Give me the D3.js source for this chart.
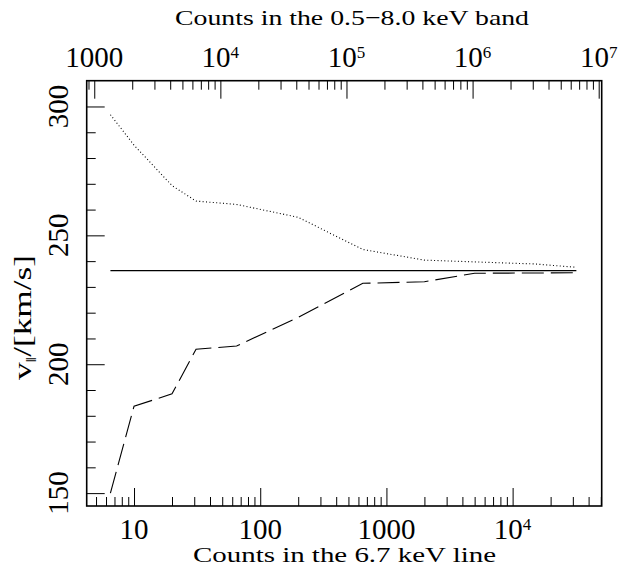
<!DOCTYPE html>
<html>
<head>
<meta charset="utf-8">
<script src="https://cdn.jsdelivr.net/npm/d3@7"></script>
<style>
  html, body { margin: 0; padding: 0; background: #fff; }
  svg { display: block; }
  text { font-family: "Liberation Serif", "Times New Roman", serif; fill: #000; }
</style>
</head>
<body>
<div id="chart"></div>
<script>
// ---- data ----
const lineCounts = [6.5, 10, 20, 31, 65, 200, 650, 2000, 5000, 15000, 32000];
const upperVel   = [296.8, 285.0, 269.3, 263.3, 262.0, 257.0, 244.5, 240.4, 239.7, 238.9, 237.6];
const lowerVel   = [150.0, 183.7, 188.5, 205.8, 207.1, 218.2, 231.4, 232.0, 235.3, 235.4, 235.5];
const trueVel    = [236.3, 236.3];
const trueCounts = [6.5, 32000];

const bottomMajor = [10, 100, 1000, 10000];
const bottomLabels = [["10", ""], ["100", ""], ["1000", ""], ["10", "4"]];
const topMajor = [1000, 1e4, 1e5, 1e6, 1e7];
const topLabels = [["1000", ""], ["10", "4"], ["10", "5"], ["10", "6"], ["10", "7"]];
const yMajor = [150, 200, 250, 300];
const yMinor = [160, 170, 180, 190, 210, 220, 230, 240, 260, 270, 280, 290];

const topTitle = "Counts in the 0.5\u22128.0 keV band";
const bottomTitle = "Counts in the 6.7 keV line";

// ---- layout ----
const W = 630, H = 569;
const L = 86.7, R = 601.7, T = 80.7, B = 506;

const svg = d3.select("#chart").append("svg")
  .attr("width", W).attr("height", H);

const xB = d3.scaleLog().domain([4.217, 50800]).range([L, R]);
const xT = d3.scaleLog().domain([871, 1.0565e7]).range([L, R]);
const y = d3.scaleLinear().domain([145, 310]).range([B, T]);

const isPow10 = v => Math.abs(Math.log10(v) - Math.round(Math.log10(v))) < 1e-9;

// ---- axes (ticks inward) ----
function styleAxis(g) {
  g.select(".domain").remove();
  g.selectAll(".tick line").attr("stroke", "#000").attr("stroke-width", 1);
  g.selectAll(".tick text").remove();
}
// bottom
svg.append("g").attr("transform", `translate(0,${B})`)
  .call(d3.axisBottom(xB).tickValues(xB.ticks().filter(v => !isPow10(v))).tickSize(-9))
  .call(styleAxis);
svg.append("g").attr("transform", `translate(0,${B})`)
  .call(d3.axisBottom(xB).tickValues(bottomMajor).tickSize(-18))
  .call(styleAxis);
// top
svg.append("g").attr("transform", `translate(0,${T})`)
  .call(d3.axisTop(xT).tickValues(xT.ticks().filter(v => !isPow10(v))).tickSize(-9))
  .call(styleAxis);
svg.append("g").attr("transform", `translate(0,${T})`)
  .call(d3.axisTop(xT).tickValues(topMajor).tickSize(-18))
  .call(styleAxis);
// left
svg.append("g").attr("transform", `translate(${L},0)`)
  .call(d3.axisLeft(y).tickValues(yMinor).tickSize(-9))
  .call(styleAxis);
svg.append("g").attr("transform", `translate(${L},0)`)
  .call(d3.axisLeft(y).tickValues(yMajor).tickSize(-18))
  .call(styleAxis);

// frame
svg.append("rect")
  .attr("x", L).attr("y", T).attr("width", R - L).attr("height", B - T)
  .attr("fill", "none").attr("stroke", "#000").attr("stroke-width", 1.6);

// ---- tick labels ----
function addLabel(x, yy, parts) {
  const t = svg.append("text").attr("x", x).attr("y", yy)
    .attr("text-anchor", "middle").attr("font-size", 29);
  t.append("tspan").text(parts[0]);
  if (parts[1]) {
    t.append("tspan").attr("font-size", 17).attr("dy", -9).text(parts[1]);
  }
}
bottomMajor.forEach((v, i) => addLabel(xB(v), 539, bottomLabels[i]));
topMajor.forEach((v, i) => addLabel(xT(v), 66.7, topLabels[i]));

yMajor.forEach(v => {
  svg.append("text")
    .attr("transform", `translate(68,${y(v)}) rotate(-90)`)
    .attr("text-anchor", "middle").attr("font-size", 29)
    .text(String(v));
});

// ---- titles ----
svg.append("text").attr("x", 175).attr("y", 25)
  .attr("font-size", 22).attr("textLength", 354).attr("lengthAdjust", "spacingAndGlyphs")
  .text(topTitle);
svg.append("text").attr("x", 193).attr("y", 562)
  .attr("font-size", 22).attr("textLength", 303).attr("lengthAdjust", "spacingAndGlyphs")
  .text(bottomTitle);

const yt = svg.append("text")
  .attr("transform", `translate(31,380) rotate(-90)`)
  .attr("font-size", 25).attr("textLength", 125).attr("lengthAdjust", "spacingAndGlyphs");
yt.append("tspan").text("v");
yt.append("tspan").attr("font-size", 14).attr("dy", 5).text("\u2016");
yt.append("tspan").attr("dy", -5).text("/[km/s]");

// ---- curves ----
const line = d3.line().x(d => xB(d[0])).y(d => y(d[1]));

svg.append("path")
  .datum(lineCounts.map((c, i) => [c, upperVel[i]]))
  .attr("d", line).attr("fill", "none").attr("stroke", "#000")
  .attr("stroke-width", 1.1).attr("stroke-dasharray", "1,2.4");

svg.append("path")
  .datum(lineCounts.map((c, i) => [c, lowerVel[i]]))
  .attr("d", line).attr("fill", "none").attr("stroke", "#000")
  .attr("stroke-width", 1.1).attr("stroke-dasharray", "22,7");

svg.append("path")
  .datum(trueCounts.map((c, i) => [c, trueVel[i]]))
  .attr("d", line).attr("fill", "none").attr("stroke", "#000")
  .attr("stroke-width", 1.1);
</script>
</body>
</html>
